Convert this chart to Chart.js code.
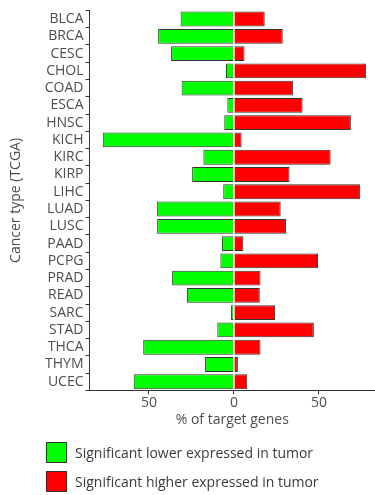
<!DOCTYPE html>
<html lang="en">
  <head>
    <meta charset="UTF-8" />
    <title>Target genes by cancer type</title>
    <script src="https://cdn.jsdelivr.net/npm/chart.js"></script>
    <style>
      body { margin: 0; background: #fff; font-family: "Open Sans", sans-serif; }
      #wrap { position: relative; width: 375px; height: 495px; }
      #legend { position: absolute; left: 46px; top: 442px; font-size: 14px; color: #3a3a3a; }
      .item { display: flex; align-items: center; height: 20px; margin-bottom: 9px; }
      .box { width: 19px; height: 19px; border: 1px solid #333; margin-right: 8px; }
    </style>
  </head>
  <body>
    <div id="wrap">
      <canvas id="chart"></canvas>
      <div id="legend">
        <div class="item"><span class="box" style="background:#00ff00"></span>Significant lower expressed in tumor</div>
        <div class="item"><span class="box" style="background:#ff0000"></span>Significant higher expressed in tumor</div>
      </div>
    </div>

    <script>
      const cancerTypes = ["BLCA", "BRCA", "CESC", "CHOL", "COAD", "ESCA", "HNSC", "KICH", "KIRC", "KIRP", "LIHC",
        "LUAD", "LUSC", "PAAD", "PCPG", "PRAD", "READ", "SARC", "STAD", "THCA", "THYM", "UCEC"];
      // % of target genes lower in tumor (drawn to the left)
      const lowerPct = [31.4, 44.6, 37, 4.7, 30.8, 3.9, 5.7, 77.2, 18, 24.6, 6.3,
        45.4, 45.2, 7, 8, 36.4, 27.7, 1.8, 9.8, 53.4, 17, 59];
      // % of target genes higher in tumor (drawn to the right)
      const higherPct = [18.1, 28.7, 6.2, 77.8, 34.7, 40.4, 68.8, 4.5, 56.9, 32.7, 74.3,
        27.5, 30.6, 5.5, 49.5, 15.6, 15.2, 24.2, 47, 15.6, 2.3, 7.8];
      const xTicks = [-50, 0, 50];

      const ink = "#4d4d4d";
      Chart.defaults.font.family = "'Open Sans', sans-serif";
      Chart.defaults.font.size = 14;
      Chart.defaults.color = ink;

      new Chart(document.getElementById("chart"), {
        type: "bar",
        data: {
          labels: cancerTypes,
          datasets: [
            {
              label: "Significant lower expressed in tumor",
              data: lowerPct.map((v) => -v),
              backgroundColor: "#00ff00",
              borderColor: "#333",
              borderWidth: 1,
              barPercentage: 0.86,
              categoryPercentage: 1,
            },
            {
              label: "Significant higher expressed in tumor",
              data: higherPct,
              backgroundColor: "#ff0000",
              borderColor: "#333",
              borderWidth: 1,
              barPercentage: 0.86,
              categoryPercentage: 1,
            },
          ],
        },
        options: {
          indexAxis: "y",
          responsive: true,
          maintainAspectRatio: false,
          animation: false,
          layout: { padding: { top: 7, bottom: 67, left: 8, right: 0 } },
          plugins: { legend: { display: false }, tooltip: { enabled: false } },
          scales: {
            x: {
              stacked: true,
              min: -85,
              max: 83,
              afterBuildTicks: (axis) => { axis.ticks = xTicks.map((v) => ({ value: v })); },
              ticks: { callback: (v) => Math.abs(v), padding: 0, maxRotation: 0 },
              grid: { drawOnChartArea: false, tickLength: 4, color: "#333" },
              border: { color: "#333", width: 1 },
              title: { display: true, text: "% of target genes", color: ink, padding: { top: 0, bottom: 0 } },
            },
            y: {
              stacked: true,
              ticks: { padding: 2, autoSkip: false },
              grid: { drawOnChartArea: false, tickLength: 4, color: "#333" },
              border: { color: "#333", width: 1 },
              title: { display: true, text: "Cancer type (TCGA)", color: ink, padding: { top: 0, bottom: 18 } },
            },
          },
        },
      });
    </script>
  </body>
</html>
